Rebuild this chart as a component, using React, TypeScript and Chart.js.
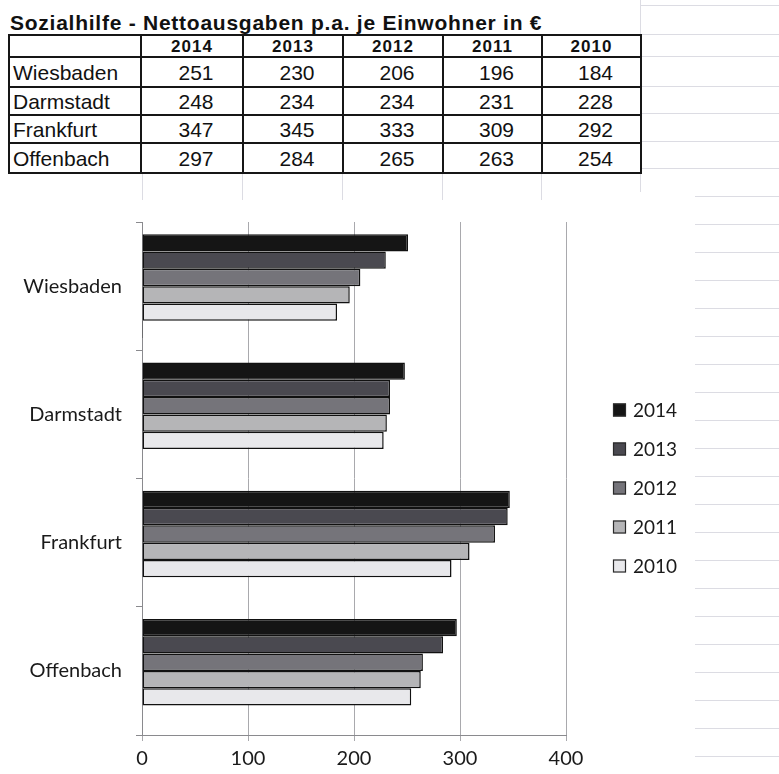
import React, { useEffect, useRef } from "react";
import { Chart, registerables } from "chart.js";

Chart.register(...registerables);

const title = "Sozialhilfe - Nettoausgaben p.a. je Einwohner in €";
const categories = ["Wiesbaden", "Darmstadt", "Frankfurt", "Offenbach"];
const years = ["2014", "2013", "2012", "2011", "2010"];
const values2014 = [251, 248, 347, 297];
const values2013 = [230, 234, 345, 284];
const values2012 = [206, 234, 333, 265];
const values2011 = [196, 231, 309, 263];
const values2010 = [184, 228, 292, 254];
const emptySeries = [1, 0, 0, 0];
const xTicks = [0, 100, 200, 300, 400];

const seriesValues = [values2014, values2013, values2012, values2011, values2010];
const seriesColors = ["#151515", "#4a4950", "#75747a", "#b5b5b7", "#e8e8eb"];

const sideLegend = {
  id: "sideLegend",
  afterDraw(chart: any, _args: any, opts: any) {
    const ctx = chart.ctx;
    const items = chart.data.datasets.filter((d: any) => d.label);
    ctx.save();
    items.forEach((ds: any, i: number) => {
      const y = opts.top + i * opts.spacing;
      ctx.fillStyle = ds.backgroundColor;
      ctx.fillRect(opts.x, y - 6.5, 13, 13);
      ctx.strokeStyle = "#2a2a2a";
      ctx.lineWidth = 1.2;
      ctx.strokeRect(opts.x + 0.5, y - 6, 12, 12);
      ctx.fillStyle = "#1a1a1a";
      ctx.font = "19px Lato";
      ctx.textBaseline = "middle";
      ctx.textAlign = "left";
      ctx.fillText(ds.label, opts.x + 20, y + 1);
    });
    ctx.restore();
  },
};

function BarChart() {
  const ref = useRef<HTMLCanvasElement | null>(null);
  useEffect(() => {
    if (!ref.current) return;
    const datasets: any[] = years.map((y, i) => ({
      label: y,
      data: seriesValues[i],
      backgroundColor: seriesColors[i],
      borderColor: "#111",
      borderWidth: 1.5,
      borderSkipped: false,
      categoryPercentage: 0.81,
      barPercentage: 1,
    }));
    datasets.push({
      label: "",
      data: emptySeries,
      backgroundColor: "#111",
      borderColor: "#111",
      borderWidth: 1.5,
      borderSkipped: false,
      categoryPercentage: 0.81,
      barPercentage: 1,
    });
    const chart = new Chart(ref.current, {
      type: "bar",
      data: { labels: categories, datasets },
      plugins: [sideLegend],
      options: {
        indexAxis: "y",
        animation: false,
        responsive: true,
        maintainAspectRatio: false,
        layout: { padding: { top: 12, right: 213, left: 0, bottom: 0 } },
        plugins: {
          legend: { display: false },
          tooltip: { enabled: false },
          sideLegend: { x: 613, top: 200, spacing: 39 },
        } as any,
        scales: {
          x: {
            type: "linear",
            min: xTicks[0],
            max: xTicks[xTicks.length - 1],
            afterBuildTicks: (scale: any) => {
              scale.ticks = xTicks.map((v) => ({ value: v }));
            },
            afterFit: (scale: any) => {
              scale.height = 39;
            },
            grid: { color: "#a9a9ad", lineWidth: 1, tickLength: 6, drawTicks: true },
            border: { display: true, color: "#8a8a8e", width: 1 },
            ticks: {
              padding: 6,
              color: "#1a1a1a",
              font: { family: "Lato", size: 20 },
            },
          },
          y: {
            type: "category",
            offset: true,
            afterFit: (scale: any) => {
              scale.width = 142;
              scale.paddingTop = 0;
              scale.paddingBottom = 0;
            },
            grid: { drawOnChartArea: false, color: "#8a8a8e", tickLength: 6, offset: true },
            border: { display: true, color: "#8a8a8e", width: 1 },
            ticks: {
              padding: 14,
              color: "#1a1a1a",
              font: { family: "Lato", size: 20 },
            },
          },
        },
      } as any,
    });
    return () => chart.destroy();
  }, []);
  return (
    <div style={{ position: "absolute", left: 0, top: 210, width: 779, height: 564 }}>
      <canvas ref={ref} />
    </div>
  );
}

const faint = "#dcdce3";

function Background() {
  const els: any[] = [];
  [5, 34, 56, 86, 113, 141, 168].forEach((y, i) =>
    els.push(
      <div key={"h" + i} style={{ position: "absolute", left: 640, top: y, width: 139, height: 1, background: faint }} />
    )
  );
  for (let y = 196, i = 0; y < 774; y += 28, i++) {
    els.push(
      <div key={"r" + i} style={{ position: "absolute", left: 695, top: y, width: 84, height: 1, background: faint }} />
    );
  }
  [142, 242, 342, 442, 541].forEach((x, i) =>
    els.push(
      <div key={"v" + i} style={{ position: "absolute", left: x, top: 172, width: 1, height: 28, background: faint }} />
    )
  );
  els.push(<div key="vr" style={{ position: "absolute", left: 640, top: 0, width: 1, height: 192, background: faint }} />);
  return <>{els}</>;
}

function DataTable() {
  const colWidths = [132, 102, 100, 100, 99, 99];
  const rowHeights = [22, 30, 28, 28, 30];
  const border = "2px solid #161616";
  const cell = (content: any, key: string, w: number, h: number, extra: any) => (
    <td
      key={key}
      style={{
        width: w,
        height: h,
        border,
        padding: 0,
        boxSizing: "border-box",
        lineHeight: 1,
        ...extra,
      }}
    >
      {content}
    </td>
  );
  return (
    <table
      style={{
        position: "absolute",
        left: 8,
        top: 34,
        borderCollapse: "collapse",
        tableLayout: "fixed",
        fontFamily: "'Liberation Sans', Arial, sans-serif",
        color: "#111",
      }}
    >
      <tbody>
        <tr>
          {cell("", "hc", colWidths[0], rowHeights[0], {})}
          {years.map((y, j) =>
            cell(y, "h" + j, colWidths[j + 1], rowHeights[0], {
              textAlign: "center",
              fontWeight: "bold",
              fontSize: 17,
              letterSpacing: 1,
            })
          )}
        </tr>
        {categories.map((c, i) => (
          <tr key={c}>
            {cell(c, "c" + i, colWidths[0], rowHeights[i + 1], { fontSize: 21, paddingLeft: 3, textAlign: "left" })}
            {seriesValues.map((vals, j) =>
              cell(String(vals[i]), "v" + i + j, colWidths[j + 1], rowHeights[i + 1], {
                textAlign: "center",
                fontSize: 21,
                paddingLeft: 8,
              })
            )}
          </tr>
        ))}
      </tbody>
    </table>
  );
}

export default function App() {
  return (
    <div
      style={{
        position: "fixed",
        left: 0,
        top: 0,
        width: 779,
        height: 774,
        background: "#fff",
        overflow: "hidden",
      }}
    >
      <Background />
      <div
        style={{
          position: "absolute",
          left: 10,
          top: 11,
          fontFamily: "'Liberation Sans', Arial, sans-serif",
          fontWeight: "bold",
          fontSize: 21,
          letterSpacing: 0.75,
          lineHeight: "24px",
          color: "#111",
          whiteSpace: "nowrap",
        }}
      >
        {title}
      </div>
      <DataTable />
      <BarChart />
    </div>
  );
}
